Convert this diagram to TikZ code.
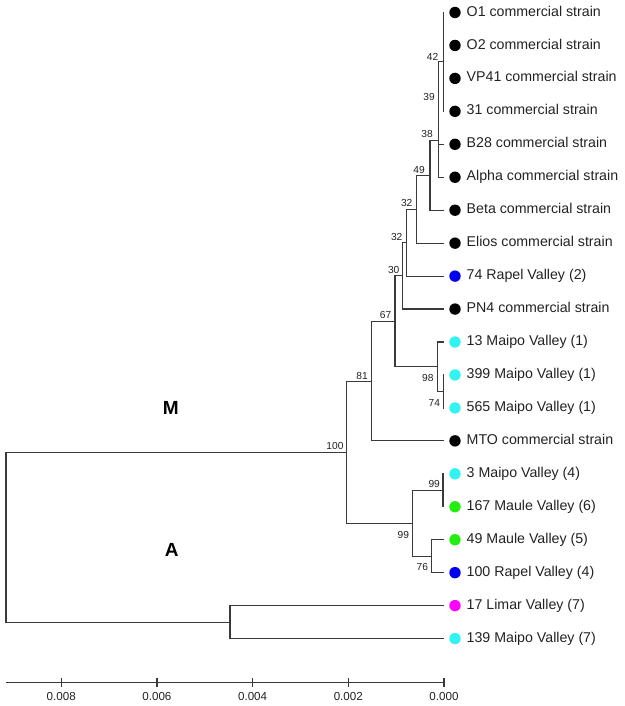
\documentclass[tikz,border=0pt]{standalone}
\usepackage{fontspec}
\setmainfont{Liberation Sans}
\usetikzlibrary{calc}
\definecolor{kb}{HTML}{000000}
\definecolor{kblue}{HTML}{0000EE}
\definecolor{kcyan}{HTML}{33F2F2}
\definecolor{kgreen}{HTML}{22EE11}
\definecolor{kmag}{HTML}{FF00FF}
\definecolor{linec}{HTML}{3A3A3A}
\definecolor{textc}{HTML}{222222}
\tikzset{
  branch/.style={draw=linec, line width=1.2pt},
  leafdot/.style={circle, draw=none, minimum size=11.4pt, inner sep=0pt},
  leaflabel/.style={anchor=west, inner sep=0pt, text height=0.716em, text depth=0pt,
    font=\fontsize{14.2}{16}\selectfont, text=textc},
  boot/.style={anchor=center, inner sep=0pt, text height=0.716em, text depth=0pt,
    font=\fontsize{10.2}{12}\selectfont, text=textc},
  axislabel/.style={anchor=center, inner sep=0pt, text height=0.716em, text depth=0pt,
    font=\fontsize{11.6}{13}\selectfont, text=textc},
  cladelabel/.style={anchor=center, inner sep=0pt, text height=0.716em, text depth=0pt,
    font=\fontsize{19}{22}\selectfont\bfseries, text=black},
}
\begin{document}
\begin{tikzpicture}[x=1pt,y=-1pt]
\useasboundingbox (0,0) rectangle (624,706);
% leaves
\foreach \i/\c/\t in {
  0/kb/O1 commercial strain,
  1/kb/O2 commercial strain,
  2/kb/VP41 commercial strain,
  3/kb/31 commercial strain,
  4/kb/B28 commercial strain,
  5/kb/Alpha commercial strain,
  6/kb/Beta commercial strain,
  7/kb/Elios commercial strain,
  8/kblue/74 Rapel Valley (2),
  9/kb/PN4 commercial strain,
  10/kcyan/13 Maipo Valley (1),
  11/kcyan/399 Maipo Valley (1),
  12/kcyan/565 Maipo Valley (1),
  13/kb/MTO commercial strain,
  14/kcyan/3 Maipo Valley (4),
  15/kgreen/167 Maule Valley (6),
  16/kgreen/49 Maule Valley (5),
  17/kblue/100 Rapel Valley (4),
  18/kmag/17 Limar Valley (7),
  19/kcyan/139 Maipo Valley (7)}{
  \pgfmathsetmacro\yy{12.5+32.95*\i}
  \coordinate (L\i) at (444,\yy);
  \node[leafdot, fill=\c] (D\i) at (455,\yy) {};
  \node[leaflabel] (T\i) at (466.5,\yy) {\t};
}
% internal nodes
\coordinate (nA)   at (443.3, 61.9);
\coordinate (n39)  at (438.3,103.1);
\coordinate (n38)  at (438.3,140.2);
\coordinate (n49)  at (430.0,175.2);
\coordinate (n32a) at (416.7,209.2);
\coordinate (n32b) at (406.7,242.65);
\coordinate (n30)  at (402.7,275.85);
\coordinate (n74)  at (443.3,391.4);
\coordinate (n98)  at (437.3,366.7);
\coordinate (n67)  at (395.0,321.3);
\coordinate (n81)  at (371.7,381.1);
\coordinate (n99b) at (443.0,490.3);
\coordinate (n76)  at (431.3,556.2);
\coordinate (nA99) at (412.5,523.25);
\coordinate (n100) at (346.5,452.2);
\coordinate (nL)   at (230.0,622.1);
\coordinate (root) at (6.0,537.1);
% branches
\foreach \p/\c in {nA/L0, nA/L1, nA/L2, nA/L3,
  n39/nA, n39/L4, n38/n39, n38/L5, n49/n38, n49/L6,
  n32a/n49, n32a/L7, n32b/n32a, n32b/L8, n30/n32b, n30/L9,
  n74/L11, n74/L12, n98/L10, n98/n74, n67/n30, n67/n98,
  n81/n67, n81/L13, n99b/L14, n99b/L15, n76/L16, n76/L17,
  nA99/n99b, nA99/n76, n100/n81, n100/nA99,
  nL/L18, nL/L19, root/n100, root/nL}{
  \draw[branch] (\p) |- (\c);
}
% bootstrap values
\node[boot] (b42)  at (432.5, 57.0) {42};
\node[boot] (b39)  at (429.0, 97.0) {39};
\node[boot] (b38)  at (427.0,134.0) {38};
\node[boot] (b49)  at (419.0,170.0) {49};
\node[boot] (b32a) at (406.7,203.0) {32};
\node[boot] (b32b) at (396.7,236.7) {32};
\node[boot] (b30)  at (393.7,270.3) {30};
\node[boot] (b67)  at (385.5,314.7) {67};
\node[boot] (b81)  at (362.0,375.8) {81};
\node[boot] (b98)  at (427.8,377.5) {98};
\node[boot] (b74)  at (434.3,402.5) {74};
\node[boot] (b100) at (335.0,445.5) {100};
\node[boot] (b99b) at (434.2,484.2) {99};
\node[boot] (b99a) at (403.3,534.5) {99};
\node[boot] (b76)  at (422.3,566.7) {76};
% clade labels
\node[cladelabel] (cM) at (170.7,410.7) {M};
\node[cladelabel] (cA) at (171.7,552.7) {A};
% axis
\coordinate (ax0) at (6,682.7);
\coordinate (ax1) at (444,682.7);
\draw[branch] (ax0) -- (ax1);
\foreach \k/\lab in {0/0.000, 1/0.002, 2/0.004, 3/0.006, 4/0.008}{
  \coordinate (tk\k) at ($(ax1)+(-95.7*\k,0)$);
  \draw[branch] ($(tk\k)+(0,-4.5)$) -- ($(tk\k)+(0,4.5)$);
  \node[axislabel] (tl\k) at ($(tk\k)+(0,14.6)$) {\lab};
}
\end{tikzpicture}
\end{document}
